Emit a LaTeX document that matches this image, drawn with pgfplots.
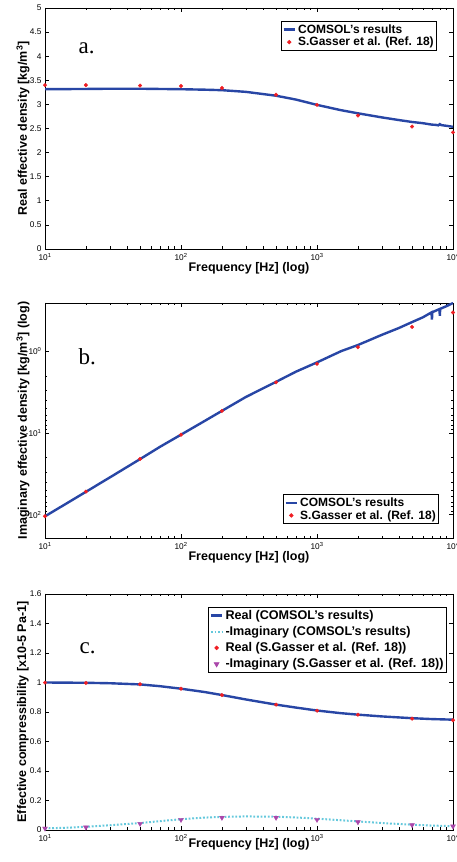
\documentclass[border=0pt]{standalone}
\usepackage{fontspec}
\setmainfont{Liberation Sans}
\newfontfamily\serifpanel{Liberation Serif}
\usepackage{pgfplots}
\pgfplotsset{compat=1.18}

\definecolor{comsolblue}{RGB}{40,70,165}
\definecolor{gasserred}{RGB}{240,30,35}
\definecolor{imcyan}{RGB}{100,200,220}
\definecolor{immag}{RGB}{170,70,170}

\pgfkeys{/pgf/number format/assume math mode=true}
\pgfplotsset{
  legend image code/.code={\draw[mark repeat=2,mark phase=2,#1]
    plot coordinates {(0cm,0cm) (0.2cm,0cm) (0.4cm,0cm)};},
}
\pgfplotsset{
  scale only axis, width=408pt,
  xmin=10, xmax=10000,
  xtick={10,100,1000,10000},
  xticklabels={10\textsuperscript{1},10\textsuperscript{2},10\textsuperscript{3},10\textsuperscript{4}},
  ticklabel style={font=\fontsize{8.3}{9}\selectfont},
  xticklabel style={yshift=-1pt},
  xlabel={Frequency [Hz] (log)},
  label style={font=\bfseries\fontsize{12.5}{14}\selectfont},
  xlabel style={at={(axis description cs:0.5,-0.08)},anchor=center},
  ylabel style={at={(axis description cs:-0.054,0.5)},anchor=center},
  axis line style={line width=0.8pt},
  tick style={black, line width=0.6pt},
  major tick length=4pt, minor tick length=2.5pt,
  legend cell align=left,
  legend style={draw=black, line width=0.7pt,
    font=\bfseries\fontsize{12}{13}\selectfont, inner sep=1pt, row sep=-1.5pt},
  comsol/.style={comsolblue, line width=2.4pt, no marks},
  gasser/.style={only marks, mark=*, mark size=1.8pt, gasserred,
    mark options={draw=gasserred, fill=gasserred}},
}

\begin{document}
\begin{tikzpicture}

% a. real density
\begin{axis}[xmode=log, at={(45pt,613pt)}, anchor=south west, height=241pt,
  ymin=0, ymax=5, ytick={0,0.5,...,5},
  ylabel={Real effective density [kg/m\textsuperscript{3}]},
  legend style={at={(0.961,0.946)}, anchor=north east}]
\addplot[comsol] coordinates {(10,3.315)(15,3.318)(20,3.32)(30,3.325)(50,3.325)(70,3.32)(100,3.315)(150,3.305)(200,3.295)(300,3.26)(500,3.18)(700,3.1)(1000,2.99)(1500,2.88)(2000,2.815)(3000,2.73)(4000,2.675)(5000,2.635)(6000,2.61)(7000,2.58)(7500,2.575)(7800,2.565)(8000,2.59)(8200,2.57)(9000,2.555)(10000,2.535)};
\addplot[gasser] coordinates {(10,3.40)(20,3.40)(50,3.39)(100,3.38)(200,3.34)(500,3.20)(1000,2.99)(2000,2.77)(5000,2.54)(10000,2.42)};
\legend{COMSOL's results, S.Gasser et al. (Ref. 18)}
\node[anchor=base west, font=\serifpanel\fontsize{23}{25}\selectfont] at (rel axis cs:0.074,0.813) {a.};
\end{axis}

% b. imaginary density
\begin{axis}[xmode=log, at={(45pt,324pt)}, anchor=south west, height=235pt,
  ymode=log, y dir=reverse, ymin=0.257, ymax=193,
  ytick={1,10,100},
  yticklabels={-10\textsuperscript{0},-10\textsuperscript{1},-10\textsuperscript{2}},
  ylabel={Imaginary effective density [kg/m\textsuperscript{3}] (log)},
  legend style={at={(0.966,0.06)}, anchor=south east}]
\addplot[comsol] coordinates {(10,104.7)(15,70)(20,52.5)(30,35)(50,20.9)(70,14.8)(100,10.5)(150,7.1)(200,5.37)(300,3.63)(500,2.37)(700,1.78)(1000,1.37)(1500,1.0)(2000,0.84)(3000,0.63)(4000,0.52)(5000,0.44)(6000,0.385)(6950,0.335)(7000,0.41)(7050,0.333)(7950,0.305)(8000,0.37)(8050,0.303)(9000,0.28)(10000,0.257)};
\addplot[gasser] coordinates {(10,104.7)(20,52.2)(50,20.8)(100,10.5)(200,5.38)(500,2.40)(1000,1.43)(2000,0.893)(5000,0.504)(10000,0.336)};
\legend{COMSOL's results, S.Gasser et al. (Ref. 18)}
\node[anchor=base west, font=\serifpanel\fontsize{23}{25}\selectfont] at (rel axis cs:0.074,0.737) {b.};
\end{axis}

% c. compressibility
\begin{axis}[xmode=log, at={(45pt,32pt)}, anchor=south west, height=236pt,
  ymin=0, ymax=1.6, ytick={0,0.2,...,1.6},
  ylabel={Effective compressibility [x10-5 Pa-1]},
  xlabel style={at={(axis description cs:0.5,-0.062)}},
  legend style={at={(0.985,0.945)}, anchor=north east, row sep=1.5pt,
    font=\bfseries\fontsize{12.6}{13.5}\selectfont}]
\addplot[comsol] coordinates {(10,1.0)(20,0.998)(30,0.995)(50,0.987)(70,0.975)(100,0.958)(150,0.935)(200,0.915)(300,0.885)(500,0.85)(700,0.83)(1000,0.81)(1500,0.792)(2000,0.782)(3000,0.77)(5000,0.758)(7000,0.752)(10000,0.748)};
\addplot[imcyan, line width=2pt, dash pattern=on 1.8pt off 1.8pt, no marks] coordinates {(10,0.011)(15,0.016)(20,0.022)(30,0.032)(50,0.047)(70,0.06)(100,0.073)(150,0.084)(200,0.089)(300,0.092)(500,0.09)(700,0.085)(1000,0.077)(1500,0.066)(2000,0.058)(3000,0.047)(5000,0.036)(7000,0.03)(10000,0.026)};
\addplot[gasser] coordinates {(10,0.999)(20,0.997)(50,0.988)(100,0.958)(200,0.915)(500,0.850)(1000,0.809)(2000,0.782)(5000,0.755)(10000,0.744)};
\addplot[only marks, mark=triangle*, mark size=2.8pt, immag,
  mark options={rotate=180, draw=immag, fill=immag}] coordinates {(10,0.011)(20,0.018)(50,0.043)(100,0.070)(200,0.084)(500,0.084)(1000,0.070)(2000,0.054)(5000,0.034)(10000,0.025)};
\legend{Real (COMSOL's results), -Imaginary (COMSOL's results), Real (S.Gasser et al. (Ref. 18)), -Imaginary (S.Gasser et al. (Ref. 18))}
\node[anchor=base west, font=\serifpanel\fontsize{23}{25}\selectfont] at (rel axis cs:0.076,0.749) {c.};
\end{axis}

\pgfresetboundingbox
\path[use as bounding box] (0,0) rectangle (456pt,862pt);
\end{tikzpicture}
\end{document}
